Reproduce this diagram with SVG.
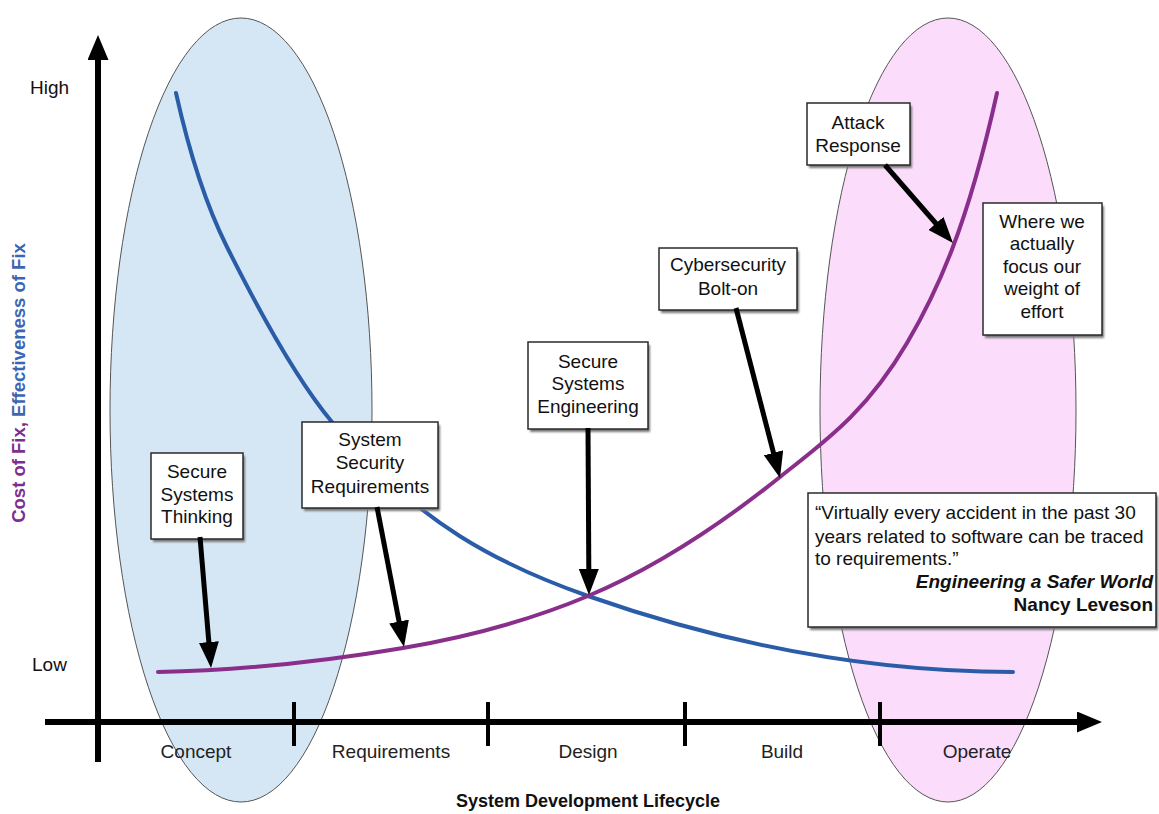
<svg xmlns="http://www.w3.org/2000/svg" width="1159" height="814" viewBox="0 0 1159 814">
  <style>
    text { font-family: "Liberation Sans", Arial, sans-serif; fill: #111; }
    .lbl { font-size: 19px; text-anchor: middle; }
    .axis-lbl { font-size: 19px; }
    .phase { font-size: 19px; text-anchor: middle; fill: #222; }
    .box { fill: #fff; stroke: #2a2a2a; stroke-width: 1.5; }
    .shadow { fill: #777; filter: url(#soft); }
    .ptr { stroke: #000; stroke-width: 5; fill: none; marker-end: url(#head); }
    .axis { stroke: #000; stroke-width: 6; fill: none; }
    .tick { stroke: #000; stroke-width: 4; }
  </style>
  <defs>
    <filter id="soft" x="-10%" y="-10%" width="130%" height="130%">
      <feGaussianBlur stdDeviation="1.2"/>
    </filter>
    <marker id="head" markerUnits="userSpaceOnUse" markerWidth="26" markerHeight="20" refX="16" refY="10" orient="auto">
      <path d="M0,0 L26,10 L0,20 z" fill="#000"/>
    </marker>
    <marker id="axisHead" markerUnits="userSpaceOnUse" markerWidth="25" markerHeight="21" refX="13" refY="10.5" orient="auto">
      <path d="M0,0 L25,10.5 L0,21 z" fill="#000"/>
    </marker>
  </defs>

  <!-- phase focus ellipses -->
  <g id="early-focus">
    <ellipse cx="241" cy="410" rx="131" ry="392" fill="#d5e7f4" stroke="#555" stroke-width="1"/>
  </g>
  <g id="late-focus">
    <ellipse cx="948" cy="410" rx="128" ry="392" fill="#fbdcfb" stroke="#555" stroke-width="1"/>
  </g>

  <!-- axes -->
  <g id="axes">
    <line class="axis" x1="98" y1="762" x2="98" y2="47" marker-end="url(#axisHead)"/>
    <line class="axis" x1="45" y1="722" x2="1090" y2="722" marker-end="url(#axisHead)"/>
    <line class="tick" x1="294" y1="702" x2="294" y2="746"/>
    <line class="tick" x1="488" y1="702" x2="488" y2="746"/>
    <line class="tick" x1="685" y1="702" x2="685" y2="746"/>
    <line class="tick" x1="880" y1="702" x2="880" y2="746"/>
    <text class="axis-lbl" x="30" y="94">High</text>
    <text class="axis-lbl" x="32" y="671">Low</text>
    <text class="phase" x="196" y="758">Concept</text>
    <text class="phase" x="391" y="758">Requirements</text>
    <text class="phase" x="588" y="758">Design</text>
    <text class="phase" x="782" y="758">Build</text>
    <text class="phase" x="977" y="758">Operate</text>
    <text x="588" y="807" font-size="18" font-weight="bold" text-anchor="middle">System Development Lifecycle</text>
    <text transform="translate(25,383) rotate(-90)" font-size="18.5" font-weight="bold" text-anchor="middle"><tspan fill="#7d2e8e">Cost of Fix, </tspan><tspan fill="#3d66b2">Effectiveness of Fix</tspan></text>
  </g>

  <!-- effectiveness (blue) and cost (purple) curves -->
  <g id="curves" fill="none" stroke-width="4" stroke-linecap="round">
    <path id="effectiveness" stroke="#2b5ca8" d="M176,93 C193,169.5 210,213 227,247 C262,317 297,380 332,422 C417.3,524.4 502.7,566.1 588,596 C729.7,645.6 871.3,672 1013,672"/>
    <path id="cost" stroke="#8a2e8c" d="M158,672 C239.7,670.4 321.3,661.9 403,648 C464.7,637.5 526.3,621.9 588,596 C652,569.1 716,528.2 780,477 C822.3,443.1 864.7,414.9 907,343 C937,292 967,228 997,93"/>
  </g>

  <!-- callout boxes -->
  <g id="secure-systems-thinking">
    <rect class="shadow" x="153" y="456" width="92" height="86"/>
    <rect class="box" x="151" y="453" width="92" height="86"/>
    <text class="lbl" x="197" y="478">Secure</text>
    <text class="lbl" x="197" y="501">Systems</text>
    <text class="lbl" x="197" y="523">Thinking</text>
  </g>
  <g id="system-security-requirements">
    <rect class="shadow" x="304" y="425" width="136" height="86"/>
    <rect class="box" x="302" y="422" width="136" height="86"/>
    <text class="lbl" x="370" y="446">System</text>
    <text class="lbl" x="370" y="469">Security</text>
    <text class="lbl" x="370" y="493">Requirements</text>
  </g>
  <g id="secure-systems-engineering">
    <rect class="shadow" x="530" y="345" width="120" height="87"/>
    <rect class="box" x="528" y="342" width="120" height="87"/>
    <text class="lbl" x="588" y="368">Secure</text>
    <text class="lbl" x="588" y="390">Systems</text>
    <text class="lbl" x="588" y="413">Engineering</text>
  </g>
  <g id="cybersecurity-bolt-on">
    <rect class="shadow" x="661" y="251" width="138" height="62"/>
    <rect class="box" x="659" y="248" width="138" height="62"/>
    <text class="lbl" x="728" y="271">Cybersecurity</text>
    <text class="lbl" x="728" y="295">Bolt-on</text>
  </g>
  <g id="attack-response">
    <rect class="shadow" x="809" y="106" width="103" height="62"/>
    <rect class="box" x="807" y="103" width="103" height="62"/>
    <text class="lbl" x="858" y="129">Attack</text>
    <text class="lbl" x="858" y="152">Response</text>
  </g>
  <g id="weight-of-effort">
    <rect class="shadow" x="985" y="206" width="119" height="132"/>
    <rect class="box" x="983" y="203" width="119" height="132"/>
    <text class="lbl" x="1042" y="228">Where we</text>
    <text class="lbl" x="1042" y="250">actually</text>
    <text class="lbl" x="1042" y="273">focus our</text>
    <text class="lbl" x="1042" y="295">weight of</text>
    <text class="lbl" x="1042" y="318">effort</text>
  </g>
  <g id="quote">
    <rect class="shadow" x="810" y="496" width="348" height="134"/>
    <rect class="box" x="808" y="493" width="348" height="134"/>
    <text x="815" y="519" font-size="19">“Virtually every accident in the past 30</text>
    <text x="815" y="543" font-size="19">years related to software can be traced</text>
    <text x="815" y="565" font-size="19">to requirements.”</text>
    <text x="1153" y="588" font-size="19" font-weight="bold" font-style="italic" text-anchor="end">Engineering a Safer World</text>
    <text x="1153" y="611" font-size="19" font-weight="bold" text-anchor="end">Nancy Leveson</text>
  </g>

  <!-- pointers from callouts to curve -->
  <g id="connectors">
    <line class="ptr" x1="200" y1="537" x2="210.2" y2="658"/>
    <line class="ptr" x1="377" y1="507" x2="402.1" y2="637.2"/>
    <line class="ptr" x1="588" y1="428" x2="588.9" y2="585"/>
    <line class="ptr" x1="736" y1="308" x2="777.5" y2="468.3"/>
    <line class="ptr" x1="885" y1="165" x2="946.4" y2="235.5"/>
  </g>
</svg>
